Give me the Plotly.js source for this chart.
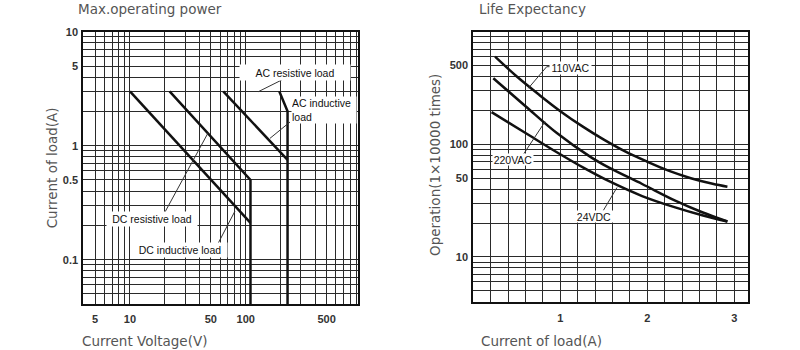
<!DOCTYPE html>
<html><head><meta charset="utf-8">
<script src="https://cdn.plot.ly/plotly-3.0.1.min.js"></script>
<style>html,body{margin:0;padding:0;background:#fff}#chart{width:800px;height:350px}</style>
</head><body><div id="chart"></div>
<script>
// ---- Left chart: Max. operating power (voltage V vs current A) ----
const dcInductiveV = [10, 110];
const dcInductiveA = [3, 0.21];
const dcResistiveV = [22, 110, 110];
const dcResistiveA = [3, 0.5, 0.04];
const acInductiveV = [64, 230];
const acInductiveA = [3, 0.75];
const acResistiveV = [195, 230, 230];
const acResistiveA = [3, 2, 0.04];

const voltGrid = [5,6,7,8,9,10,20,30,40,50,60,70,80,90,100,200,300,400,500,600,700,800,900];
const voltLabels = [5,10,50,100,500];
const ampGrid = [0.05,0.06,0.07,0.08,0.09,0.1,0.2,0.3,0.4,0.5,0.6,0.7,0.8,0.9,1,2,3,4,5,6,7,8,9,10];
const ampLabels = [0.1,0.5,1,5,10];

// ---- Right chart: Life expectancy (current A vs operations x10000) ----
const current110 = [0.25, 0.5, 0.75, 1.0, 1.25, 1.5, 1.75, 2.0, 2.25, 2.5, 2.75, 2.92];
const life110VAC = [600, 400, 278, 197, 145, 110, 86, 70, 58, 50, 44.6, 42];
const current220 = [0.23, 0.6, 0.96, 1.35, 1.56, 1.94, 2.32, 2.63, 2.92];
const life220VAC = [386, 218, 126, 77, 62, 44.4, 31.6, 24.9, 20.6];
const current24 = [0.21, 0.6, 0.96, 1.27, 1.56, 1.94, 2.32, 2.63, 2.92];
const life24VDC = [193, 126, 85, 61.7, 47, 34.7, 27.5, 23.4, 20.6];

const loadGrid = [0,0.2,0.4,0.6,0.8,1,1.2,1.4,1.6,1.8,2,2.2,2.4,2.6,2.8,3];
const loadLabels = [1,2,3];
const opsGrid = [4,5,6,7,8,9,10,20,30,40,50,60,70,80,90,100,200,300,400,500,600,700,800,900,1000];
const opsLabels = [10,50,100,500];

function texts(grid, labels){ return grid.map(v => labels.includes(v) ? String(v) : ''); }
function X(p){ return p/800; }
function Y(p){ return 1 - p/350; }

const lineStyle = {color:'#111', width:2.5};
const curveStyle = {color:'#111', width:2.5, shape:'spline', smoothing:1};
const traces = [
  {x:dcInductiveV, y:dcInductiveA, xaxis:'x', yaxis:'y', mode:'lines', line:lineStyle, name:'DC inductive load'},
  {x:dcResistiveV, y:dcResistiveA, xaxis:'x', yaxis:'y', mode:'lines', line:lineStyle, name:'DC resistive load'},
  {x:acInductiveV, y:acInductiveA, xaxis:'x', yaxis:'y', mode:'lines', line:lineStyle, name:'AC inductive load'},
  {x:acResistiveV, y:acResistiveA, xaxis:'x', yaxis:'y', mode:'lines', line:lineStyle, name:'AC resistive load'},
  {x:current110, y:life110VAC, xaxis:'x2', yaxis:'y2', mode:'lines', line:curveStyle, name:'110VAC'},
  {x:current220, y:life220VAC, xaxis:'x2', yaxis:'y2', mode:'lines', line:curveStyle, name:'220VAC'},
  {x:current24, y:life24VDC, xaxis:'x2', yaxis:'y2', mode:'lines', line:curveStyle, name:'24VDC'}
];

const tickFont = {family:'Liberation Sans, Arial, sans-serif', size:11, color:'#333', weight:'bold'};
const axisBase = {
  showgrid:true, gridcolor:'#2a2a2a', gridwidth:1, showline:true, linecolor:'#111', linewidth:2,
  mirror:true, ticks:'', zeroline:false, tickfont:tickFont, automargin:false, fixedrange:true
};

const titleFont = {family:'DejaVu Sans, sans-serif', size:13.5, color:'#555'};
const labFont = {family:'Liberation Sans, Arial, sans-serif', size:10.5, color:'#111'};

function lab(text, cx, cy, w, h){
  return {xref:'paper', yref:'paper', x:X(cx), y:Y(cy), xanchor:'center', yanchor:'middle',
    text:text, showarrow:false, font:labFont, bgcolor:'#fff', width:w, height:h, borderpad:0};
}
function ttl(text, lx, cy, angle){
  const a = {xref:'paper', yref:'paper', x:X(lx), y:Y(cy), text:text, showarrow:false, font:titleFont};
  if(angle){ a.textangle = angle; a.xanchor='center'; a.yanchor='middle'; }
  else { a.xanchor='left'; a.yanchor='middle'; }
  return a;
}
function ptr(x0,y0,x1,y1){
  return {type:'line', xref:'paper', yref:'paper', x0:X(x0), y0:Y(y0), x1:X(x1), y1:Y(y1), line:{color:'#333', width:1}};
}

const annotations = [
  ttl('Max.operating power', 76, 9),
  ttl('Life Expectancy', 477, 9),
  ttl('Current Voltage(V)', 80, 341),
  ttl('Current of load(A)', 479, 341),
  ttl('Operation(1×10000 times)', 435, 165, -90),
  lab('AC resistive load', 295, 72, 110, 15),
  {xref:'paper', yref:'paper', x:X(291), y:Y(96), xanchor:'left', yanchor:'top', text:'AC inductive<br>load',
   showarrow:false, font:labFont, bgcolor:'#fff', width:64, align:'left', valign:'top', borderpad:0},
  lab('DC resistive load', 152, 218.5, 90, 14),
  lab('DC inductive load', 180, 250, 94, 14),
  lab('110VAC', 570, 67.5, 41, 12),
  lab('220VAC', 513, 160, 40, 11),
  lab('24VDC', 594, 216.5, 38, 11)
];

const shapes = [
  ptr(281.7,80,258.3,91.7),
  ptr(290,122,270,138.3),
  ptr(165,212,208,133),
  ptr(218.3,243,235,211),
  ptr(546.7,66.7,528.3,88.3),
  ptr(546.7,66.7,550,66.7),
  ptr(523.3,154.5,545,121.7),
  ptr(603.3,210.5,617,187.5)
];

const layout = {
  width:800, height:350, margin:{l:0,r:0,t:0,b:0}, showlegend:false,
  paper_bgcolor:'#fff', plot_bgcolor:'#fff',
  xaxis: Object.assign({}, axisBase, {type:'log', domain:[X(83.3), X(358.3)], range:[Math.log10(3.95), Math.log10(940)],
    tickvals:voltGrid, ticktext:texts(voltGrid, voltLabels), anchor:'y', ticklabelstandoff:4}),
  yaxis: Object.assign({}, axisBase, {type:'log', domain:[Y(304), Y(31.7)], range:[-1.389, 1],
    tickvals:ampGrid, ticktext:texts(ampGrid, ampLabels), anchor:'x', ticklabelstandoff:1,
    title:{text:'Current of load(A)', font:titleFont, standoff:2}}),
  xaxis2: Object.assign({}, axisBase, {type:'linear', domain:[X(473.3), X(748.3)], range:[0, 3.16],
    tickvals:loadGrid, ticktext:texts(loadGrid, loadLabels), anchor:'y2', ticklabelstandoff:5}),
  yaxis2: Object.assign({}, axisBase, {type:'log', domain:[Y(301.7), Y(31.7)], range:[Math.log10(4), 3],
    tickvals:opsGrid, ticktext:texts(opsGrid, opsLabels), anchor:'x2', ticklabelstandoff:1}),
  annotations: annotations,
  shapes: shapes
};

Plotly.newPlot('chart', traces, layout, {displayModeBar:false, staticPlot:true});
</script>
</body></html>
